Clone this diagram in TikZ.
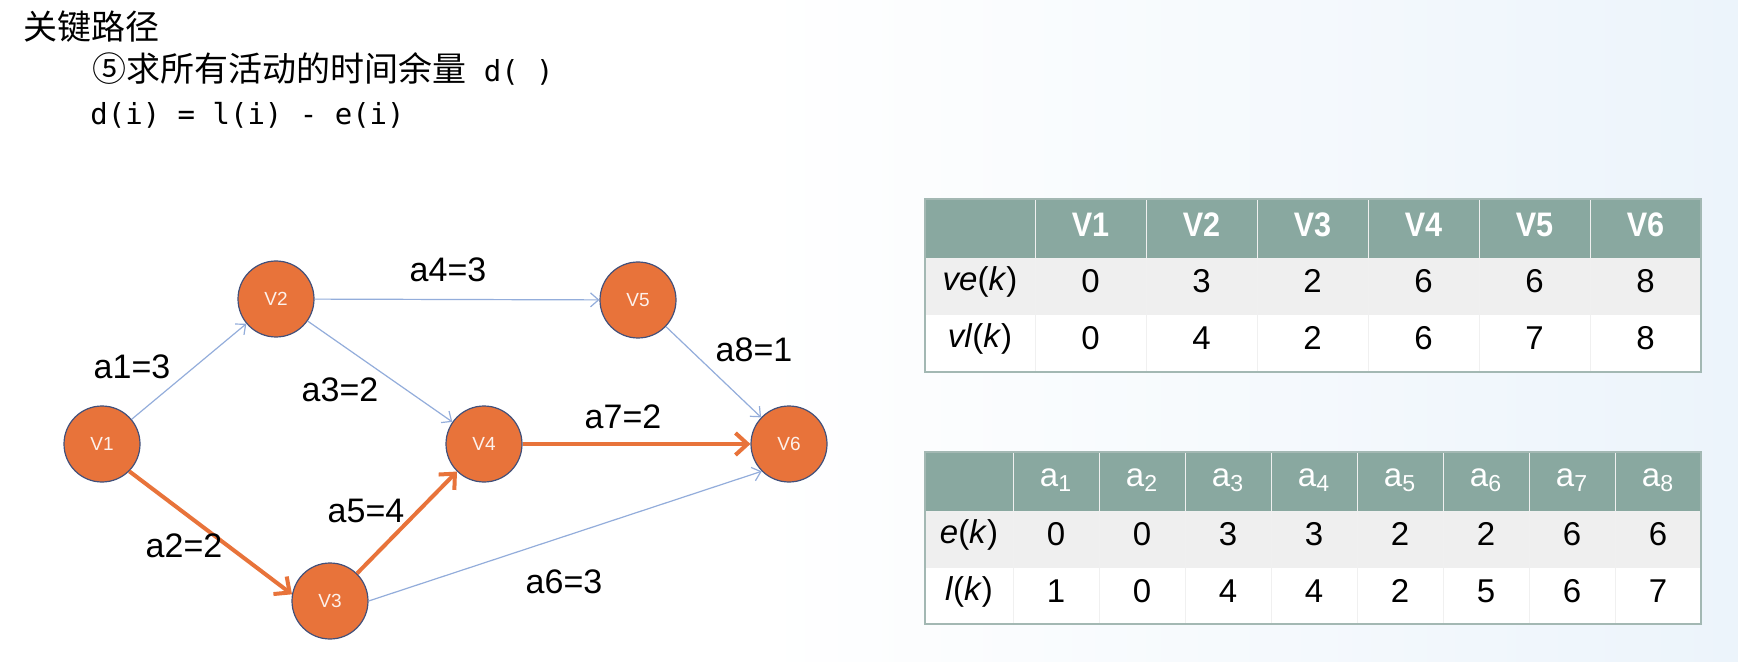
\documentclass[tikz,border=0pt]{standalone}
\usepackage{fontspec}
\setmainfont{Liberation Sans}
\newfontfamily\cjk{Noto Sans CJK SC}
\newfontfamily\mono{DejaVu Sans Mono}
\newfontfamily\narrowbold[FakeStretch=0.9]{Liberation Sans Bold}
\usetikzlibrary{arrows.meta, positioning}

\definecolor{evorange}{HTML}{E8733A}
\definecolor{evborder}{HTML}{42507A}
\definecolor{actblue}{HTML}{93ADDB}
\definecolor{headteal}{HTML}{89A8A0}
\definecolor{rowgray}{HTML}{EFEFEF}
\definecolor{bgblue}{HTML}{ECF4FB}
\definecolor{tabline}{HTML}{A3B8B3}

\tikzset{
  event/.style={circle, fill=evorange, draw=evborder, line width=0.6pt,
    minimum size=38pt, inner sep=0pt, text=white!90!evorange,
    font=\fontsize{9.5}{10}\selectfont},
  act/.style={draw=actblue, line width=0.6pt, -{Straight Barb[length=4pt, width=7pt]}},
  crit/.style={draw=evorange, line width=2pt, -{Straight Barb[length=6pt, width=11pt]}},
  wlabel/.style={inner sep=0pt, font=\fontsize{17}{19}\selectfont},
  cell/.style={inner sep=0pt, font=\fontsize{16.5}{18}\selectfont},
  headcell/.style={inner sep=0pt, text=white, font=\narrowbold\fontsize{17}{19}\selectfont},
  subhead/.style={inner sep=0pt, text=white, font=\fontsize{16.5}{18}\selectfont},
  sepline/.style={draw=white!88!gray, line width=0.4pt},
}

\begin{document}
\begin{tikzpicture}[x=0.5pt, y=-0.5pt]
\useasboundingbox (0,0) rectangle (1738,662);
% Hintergrund
\fill[white] (0,0) rectangle (760,662);
\shade[left color=white, right color=bgblue] (760,0) rectangle (1738,662);

% Titel
\node[anchor=west, inner sep=0pt, font=\cjk\fontsize{17}{20}\selectfont] (title) at (23,27) {关键路径};
\node[anchor=west, inner sep=0pt, font=\cjk\fontsize{17}{20}\selectfont] (task) at (92,69) {⑤求所有活动的时间余量{\mono\fontsize{14.5}{20}\selectfont\ d(\ )}};
\node[anchor=west, inner sep=0pt, font=\mono\fontsize{14.5}{20}\selectfont] (formula) at (90,115) {d(i) = l(i) - e(i)};

% Ereignisse
\node[event] (V1) at (102,444) {V1};
\node[event] (V2) at (276,299) {V2};
\node[event] (V3) at (330,601) {V3};
\node[event] (V4) at (484,444) {V4};
\node[event] (V5) at (638,300) {V5};
\node[event] (V6) at (789,444) {V6};

% Aktivitaeten
\path
(V1) edge[act] (V2)
(V2) edge[act] (V5)
(V2) edge[act] (V4)
(V5) edge[act] (V6)
(V3.east) edge[act] (V6.225)
(V1.315) edge[crit] (V3.170)
(V3) edge[crit] (V4)
(V4) edge[crit] (V6);

\foreach \t/\x/\y [count=\i] in {a1=3/132/367, a2=2/184/546, a3=2/340/390, a4=3/448/270,
    a5=4/366/511, a6=3/564/582, a7=2/623/417, a8=1/754/350}
  \node[wlabel] (l\i) at (\x,\y) {\t};

% Tabelle der Ereignisse
\fill[headteal] (925,199) rectangle (1701,258);
\fill[rowgray] (925,258) rectangle (1701,315);
\fill[white] (925,315) rectangle (1701,372);
\foreach \i in {0,...,5}
  \draw[sepline] ({1035+111*\i},199) -- ({1035+111*\i},372);
\draw[sepline] (925,258) -- (1701,258);
\draw[tabline, line width=0.8pt] (925,199) rectangle (1701,372);
\node[cell] (ve) at (980,282) {\textit{ve}(\textit{k})};
\node[cell] (vl) at (980,339) {\textit{vl}(\textit{k})};
\foreach \e/\l [count=\i] in {0/0, 3/4, 2/2, 6/6, 6/7, 8/8} {
  \node[headcell] (vh\i) at ({1035+111*(\i-1)+55.5},225) {V\i};
  \node[cell] (ve\i) at ({1035+111*(\i-1)+55.5},281) {\e};
  \node[cell] (vl\i) at ({1035+111*(\i-1)+55.5},338) {\l};
}

% Tabelle der Aktivitaeten
\fill[headteal] (925,452) rectangle (1701,511);
\fill[rowgray] (925,511) rectangle (1701,568);
\fill[white] (925,568) rectangle (1701,624);
\foreach \i in {0,...,7}
  \draw[sepline] ({1013+86*\i},452) -- ({1013+86*\i},624);
\draw[sepline] (925,511) -- (1701,511);
\draw[tabline, line width=0.8pt] (925,452) rectangle (1701,624);
\node[cell] (ek) at (969,535) {\textit{e}(\textit{k})};
\node[cell] (lk) at (969,592) {\textit{l}(\textit{k})};
\foreach \e/\l [count=\i] in {0/1, 0/0, 3/4, 3/4, 2/2, 2/5, 6/6, 6/7} {
  \node[subhead] (ah\i) at ({1013+86*(\i-1)+43},480) {a\textsubscript{\i}};
  \node[cell] (ae\i) at ({1013+86*(\i-1)+43},534) {\e};
  \node[cell] (al\i) at ({1013+86*(\i-1)+43},591) {\l};
}
\end{tikzpicture}
\end{document}
